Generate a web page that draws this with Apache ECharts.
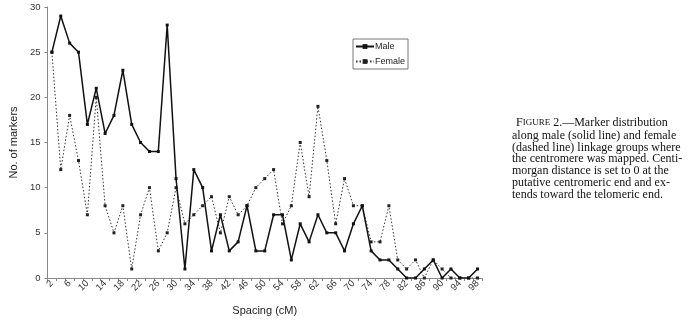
<!DOCTYPE html>
<html>
<head>
<meta charset="utf-8">
<script src="https://cdn.jsdelivr.net/npm/echarts@6/dist/echarts.min.js"></script>
<style>html,body{margin:0;padding:0;background:#fff;}#c{width:695px;height:329px;}</style>
</head>
<body>
<div id="c"></div>
<script>
const categories = [];
for (let v = 2; v <= 98; v += 2) categories.push(String(v));
const maleValues = [25,29,26,25,17,21,16,18,23,17, 15,14,14,28,11,1,12,10,3,7, 3,4,8,3,3,7,7,2,6,4, 7,5,5,3,6,8,3,2,2,1, 0,0,1,2,0,1,0,0,1];
const femaleValues = [25,12,18,13,7,20,8,5,8,1, 7,10,3,5,10,6,7,8,9,5, 9,7,8,10,11,12,6,8,15,9, 19,13,6,11,8,8,4,4,8,2, 1,2,0,2,1,0,0,0,0];
const yTicks = [0,5,10,15,20,25,30];
const captionLines = [
  "along male (solid line) and female",
  "(dashed line) linkage groups where",
  "the centromere was mapped. Centi-",
  "morgan distance is set to 0 at the",
  "putative centromeric end and ex-",
  "tends toward the telomeric end."
];

const chart = echarts.init(document.getElementById('c'), null, {renderer: 'canvas'});
const sans = 'Liberation Sans, Arial, sans-serif';
const serif = 'Liberation Serif, Times New Roman, serif';

const graphics = [];
graphics.push({
  type: 'text', left: 516, top: 117,
  style: {
    text: '{a|F}{b|IGURE}{a| 2.—Marker distribution}',
    rich: {
      a: {fontFamily: serif, fontSize: 12, fill: '#111'},
      b: {fontFamily: serif, fontSize: 9, fill: '#111'}
    }
  }
});
captionLines.forEach((t, i) => {
  graphics.push({
    type: 'text', left: 512, top: 129.5 + i * 11.9,
    style: {text: t, fontFamily: serif, fontSize: 12, fill: '#111'}
  });
});

chart.setOption({
  animation: false,
  backgroundColor: '#fff',
  grid: {left: 41, top: 7, width: 441, bottom: 51, containLabel: false},
  legend: {
    orient: 'vertical', left: 353, top: 39,
    borderColor: '#777', borderWidth: 1, padding: [3, 3, 3, 2],
    itemWidth: 18, itemHeight: 6, itemGap: 6,
    textStyle: {fontFamily: sans, fontSize: 9, color: '#222', padding: [0,0,0,-4]},
    data: ['Male', 'Female']
  },
  xAxis: {
    type: 'category', data: categories, boundaryGap: true,
    name: 'Spacing (cM)', nameLocation: 'middle', nameGap: 27,
    nameTextStyle: {fontFamily: sans, fontSize: 11, color: '#222'},
    axisLine: {lineStyle: {color: '#888', width: 1}},
    axisTick: {show: true, interval: 0, length: 3, lineStyle: {color: '#888'}},
    axisLabel: {interval: 1, rotate: 45, fontFamily: sans, fontSize: 9.5, color: '#333', margin: 4},
    splitLine: {show: false}
  },
  yAxis: {
    type: 'value', min: yTicks[0], max: yTicks[yTicks.length - 1], interval: 5,
    name: 'No. of markers', nameLocation: 'middle', nameGap: 24,
    nameTextStyle: {fontFamily: sans, fontSize: 11, color: '#222'},
    axisLine: {show: true, lineStyle: {color: '#888', width: 1}},
    axisTick: {show: true, length: 3, lineStyle: {color: '#888'}},
    axisLabel: {fontFamily: sans, fontSize: 9.5, color: '#333', margin: 7},
    splitLine: {show: false}
  },
  series: [
    {
      name: 'Male', type: 'line', data: maleValues,
      symbol: 'rect', symbolSize: 3, showSymbol: true,
      lineStyle: {color: '#111', width: 1.5, type: 'solid'},
      itemStyle: {color: '#111'},
      z: 3
    },
    {
      name: 'Female', type: 'line', data: femaleValues,
      symbol: 'rect', symbolSize: 3, showSymbol: true,
      lineStyle: {color: '#333', width: 1, type: [1.5, 2]},
      itemStyle: {color: '#222'},
      z: 2
    }
  ],
  graphic: graphics
});
</script>
</body>
</html>
